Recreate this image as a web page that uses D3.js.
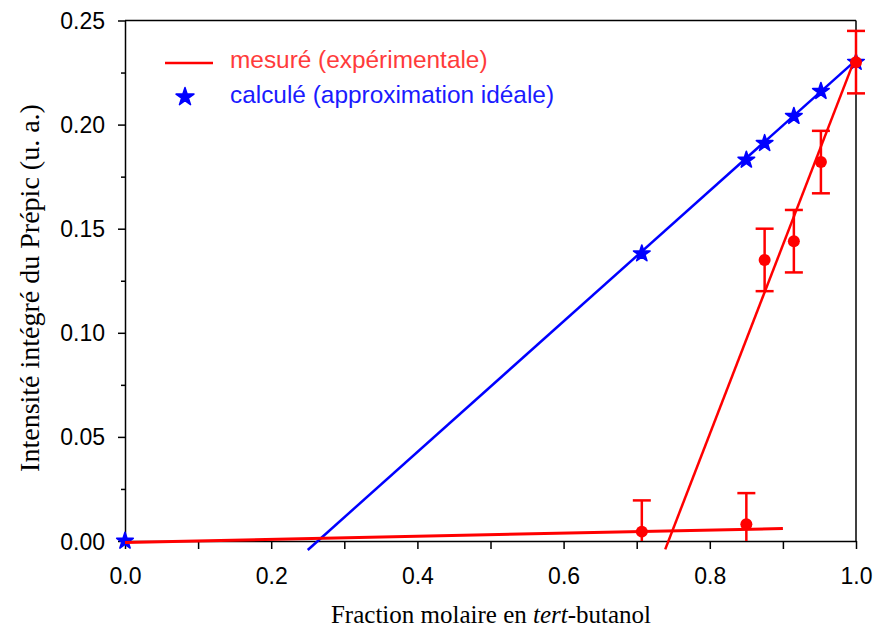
<!DOCTYPE html>
<html><head><meta charset="utf-8">
<script src="https://cdn.jsdelivr.net/npm/d3@7"></script>
<style>body{margin:0;background:#fff}</style>
</head><body>
<svg id="c" width="874" height="630"></svg>
<script>
// Data
const xCalc = [0, 0.707, 0.85, 0.875, 0.915, 0.952, 1.0];
const yCalc = [0, 0.138, 0.183, 0.191, 0.204, 0.216, 0.230];
const xMes = [0, 0.707, 0.85, 0.875, 0.915, 0.952, 1.0];
const yMes = [0, 0.0045, 0.008, 0.135, 0.144, 0.182, 0.230];
const errMes = [0, 0.015, 0.015, 0.015, 0.015, 0.015, 0.015];
const fitBlue = [[0.250, -0.0043], [1.0, 0.231]];
const fitRedLow = [[0, -0.0007], [0.9, 0.006]];
const fitRedHigh = [[0.739, -0.004], [1.0, 0.233]];
const xTicks = [0, 0.2, 0.4, 0.6, 0.8, 1.0];
const xMinor = [0.1, 0.3, 0.5, 0.7, 0.9];
const yTicks = [0, 0.05, 0.10, 0.15, 0.20, 0.25];
const yMinor = [0.025, 0.075, 0.125, 0.175, 0.225];
const legendLabels = ["mesuré (expérimentale)", "calculé (approximation idéale)"];

const svg = d3.select("#c");
const x = d3.scaleLinear().domain([0, 1]).range([125, 856]);
const y = d3.scaleLinear().domain([0, 0.25]).range([541, 20.5]);
const RED = "#ff0000", BLUE = "#0000ff";

// frame
svg.append("line").attr("x1", x(0)).attr("x2", x(1)).attr("y1", y(0.25)).attr("y2", y(0.25)).attr("stroke", "#000").attr("stroke-width", 1.5);
svg.append("line").attr("x1", x(1)).attr("x2", x(1)).attr("y1", y(0.25)).attr("y2", y(0)).attr("stroke", "#000").attr("stroke-width", 1.5);

// x axis
const xa = svg.append("g").attr("transform", `translate(0,${y(0)})`)
  .call(d3.axisBottom(x).tickValues(xTicks).tickFormat(d3.format(".1f")).tickSize(8).tickSizeOuter(0));
svg.append("g").attr("transform", `translate(0,${y(0)})`)
  .call(d3.axisBottom(x).tickValues(xMinor).tickFormat("").tickSize(8).tickSizeOuter(0))
  .select(".domain").remove();
// y axis
const ya = svg.append("g").attr("transform", `translate(${x(0)},0)`)
  .call(d3.axisLeft(y).tickValues(yTicks).tickFormat(d3.format(".2f")).tickSize(7).tickSizeOuter(0));
svg.append("g").attr("transform", `translate(${x(0)},0)`)
  .call(d3.axisLeft(y).tickValues(yMinor).tickFormat("").tickSize(4).tickSizeOuter(0))
  .select(".domain").remove();
svg.selectAll(".domain").attr("stroke-width", 1.5);
svg.selectAll(".tick line").attr("stroke-width", 1.5);
xa.selectAll("text").attr("font-family", "Liberation Sans, Arial, sans-serif").attr("font-size", 23).attr("fill", "#000").attr("y", 0).attr("dy", 0).attr("transform", "translate(0,43)");
ya.selectAll("text").attr("font-family", "Liberation Sans, Arial, sans-serif").attr("font-size", 23).attr("fill", "#000").attr("x", -20).attr("dy", "0.35em");

// axis titles
const xt = svg.append("text").attr("x", 491).attr("y", 623).attr("text-anchor", "middle")
  .attr("font-family", "Liberation Serif, Times New Roman, serif").attr("font-size", 25).attr("fill", "#000");
xt.append("tspan").text("Fraction molaire en ");
xt.append("tspan").attr("font-style", "italic").text("tert");
xt.append("tspan").text("-butanol");
svg.append("text").attr("transform", "translate(39,288) rotate(-90)").attr("text-anchor", "middle")
  .attr("font-family", "Liberation Serif, Times New Roman, serif").attr("font-size", 28).attr("fill", "#000")
  .text("Intensité intégré du Prépic (u. a.)");

const line = d3.line().x(d => x(d[0])).y(d => y(d[1]));
// blue fit
svg.append("path").attr("d", line(fitBlue)).attr("stroke", BLUE).attr("stroke-width", 2.5).attr("fill", "none");
// stars
const star = d3.symbol().type(d3.symbolStar).size(85);
svg.selectAll(".star").data(xCalc.map((v, i) => [v, yCalc[i]])).enter().append("path")
  .attr("d", star).attr("transform", d => `translate(${x(d[0])},${y(d[1])})`)
  .attr("fill", BLUE).attr("stroke", BLUE).attr("stroke-width", 1.6).attr("stroke-linejoin", "round");
// red fits
svg.append("path").attr("d", line(fitRedLow)).attr("stroke", RED).attr("stroke-width", 3).attr("fill", "none");
svg.append("path").attr("d", line(fitRedHigh)).attr("stroke", RED).attr("stroke-width", 2.5).attr("fill", "none");

// error bars
svg.append("clipPath").attr("id", "clip").append("rect").attr("x", 0).attr("y", 0).attr("width", 874).attr("height", y(0));
const mes = xMes.map((v, i) => ({x: v, y: yMes[i], e: errMes[i]}));
const eb = svg.append("g").attr("clip-path", "url(#clip)").attr("stroke", RED).attr("stroke-width", 2.5);
mes.filter(d => d.e > 0).forEach(d => {
  eb.append("line").attr("x1", x(d.x)).attr("x2", x(d.x)).attr("y1", y(d.y - d.e)).attr("y2", y(d.y + d.e));
  eb.append("line").attr("x1", x(d.x) - 9).attr("x2", x(d.x) + 9).attr("y1", y(d.y + d.e)).attr("y2", y(d.y + d.e));
  eb.append("line").attr("x1", x(d.x) - 9).attr("x2", x(d.x) + 9).attr("y1", y(d.y - d.e)).attr("y2", y(d.y - d.e));
});
svg.selectAll(".dot").data(mes.filter(d => d.x > 0)).enter().append("circle")
  .attr("cx", d => x(d.x)).attr("cy", d => y(d.y)).attr("r", 6).attr("fill", RED);

// legend
svg.append("line").attr("x1", 165).attr("x2", 213).attr("y1", 63).attr("y2", 63).attr("stroke", RED).attr("stroke-width", 2.5);
svg.append("text").attr("x", 230).attr("y", 68).text(legendLabels[0])
  .attr("font-family", "Liberation Sans, Arial, sans-serif").attr("font-size", 24.4).attr("fill", "#ff3b3b");
svg.append("path").attr("d", d3.symbol().type(d3.symbolStar).size(100)).attr("transform", "translate(185,97)")
  .attr("fill", BLUE).attr("stroke", BLUE).attr("stroke-width", 1.5).attr("stroke-linejoin", "round");
svg.append("text").attr("x", 230).attr("y", 103).text(legendLabels[1])
  .attr("font-family", "Liberation Sans, Arial, sans-serif").attr("font-size", 24.4).attr("fill", "#1a1aff");
</script>
</body></html>
